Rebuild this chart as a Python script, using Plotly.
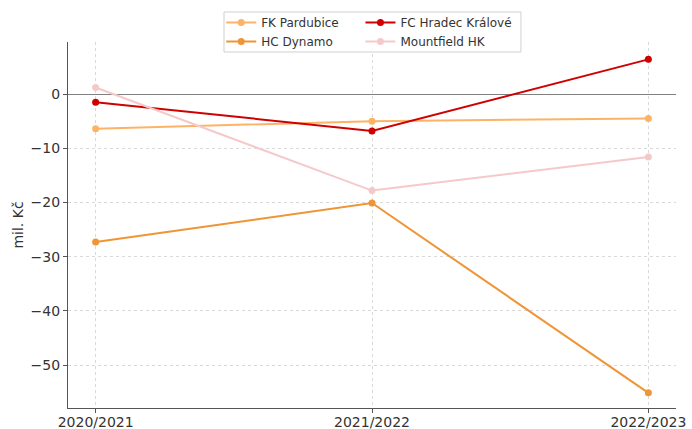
import plotly.graph_objects as go

seasons = ["2020/2021", "2021/2022", "2022/2023"]
fk_pardubice = [-6.4, -5.0, -4.5]
hc_dynamo = [-27.3, -20.1, -55.1]
fc_hradec = [-1.5, -6.8, 6.4]
mountfield = [1.2, -17.8, -11.6]

series = [
    ("FK Pardubice", fk_pardubice, "#fdb366", "legend"),
    ("HC Dynamo", hc_dynamo, "#ef9536", "legend"),
    ("FC Hradec Králové", fc_hradec, "#d00000", "legend2"),
    ("Mountfield HK", mountfield, "#f5c9c9", "legend2"),
]

fig = go.Figure()
for name, vals, color, leg in series:
    fig.add_trace(go.Scatter(
        x=[0, 1, 2], y=vals, name=name, mode="lines+markers",
        line=dict(color=color, width=2),
        marker=dict(color=color, size=7),
        legend=leg,
    ))

axis_common = dict(
    showline=True, linecolor="#555555", linewidth=1.2,
    showgrid=True, gridcolor="#d9d9d9", gridwidth=0.8, griddash="3px,3px",
    ticks="outside", ticklen=4, tickcolor="#555555", tickwidth=1,
    tickfont=dict(family="DejaVu Sans", size=14, color="#333333"),
    mirror=False,
)

legend_common = dict(
    orientation="v", xanchor="left", yanchor="top", y=1.093,
    bgcolor="rgba(0,0,0,0)", borderwidth=0,
    font=dict(family="DejaVu Sans", size=12, color="#333333"),
    tracegroupgap=0, itemwidth=30,
)

fig.update_layout(
    width=692, height=429,
    margin=dict(l=68, r=16, t=42, b=21, autoexpand=False),
    paper_bgcolor="white", plot_bgcolor="white",
    font=dict(family="DejaVu Sans", color="#333333"),
    xaxis=dict(range=[-0.1, 2.1], tickvals=[0, 1, 2], ticktext=seasons,
               zeroline=False, automargin=False, ticklabelstandoff=-3,
               **axis_common),
    yaxis=dict(range=[-57.9, 9.6], tickvals=[0, -10, -20, -30, -40, -50],
               zeroline=True, zerolinecolor="#808080", zerolinewidth=1.3,
               automargin=False,
               title=dict(text="mil. Kč", font=dict(size=14, family="DejaVu Sans", color="#333333"), standoff=3),
               **axis_common),
    legend=dict(x=0.252, **legend_common),
    legend2=dict(x=0.481, **legend_common),
    showlegend=True,
    shapes=[dict(
        type="rect", xref="paper", yref="paper",
        x0=0.2566, x1=0.745, y0=0.9727, y1=1.082,
        line=dict(color="#d0d0d0", width=1),
        fillcolor="rgba(255,255,255,0.85)", layer="above",
    )],
)

fig.write_html("out.html", config={"displayModeBar": False},
               post_script="document.body.style.margin='0';document.body.style.overflow='hidden';")
